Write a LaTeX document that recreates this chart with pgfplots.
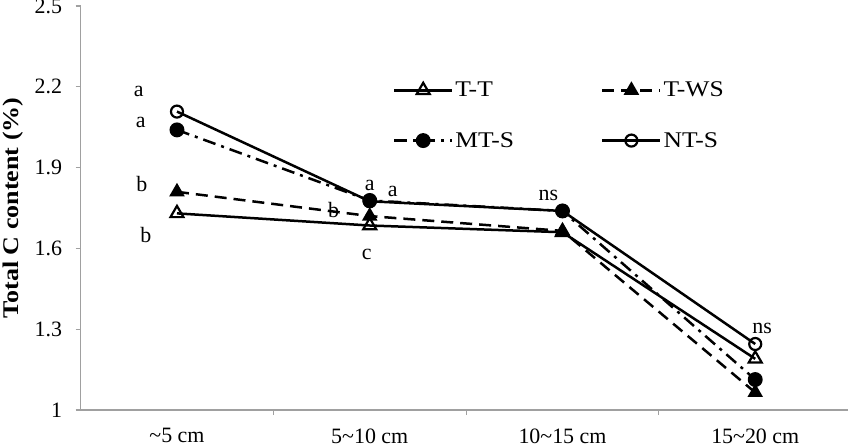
\documentclass[border=0pt]{standalone}
\usepackage{pgfplots}
\pgfplotsset{compat=1.18}
\usepackage{fontspec}
\setmainfont{Liberation Serif}
\newfontfamily\legendfont[FakeStretch=1.14]{Liberation Serif}
\newfontfamily\labelfont[FakeStretch=1.16]{Liberation Serif}

\definecolor{axisgray}{RGB}{160,160,160}

% Total C content by soil depth for four tillage treatments
\begin{document}
\begin{tikzpicture}[font=\fontsize{22}{26}\selectfont]
\begin{axis}[
  name=ax,
  scale only axis, width=771bp, height=404bp,
  xmin=-0.5, xmax=3.5, ymin=1, ymax=2.5,
  axis x line*=bottom, axis y line*=left,
  axis line style={axisgray, line width=1.3bp},
  tick style={axisgray, line width=1.1bp},
  tick align=outside, major tick length=5bp,
  xtick={0.5,1.5,2.5}, xticklabels={,,},
  extra x ticks={0,1,2,3},
  extra x tick labels={\textasciitilde5 cm, 5\textasciitilde10 cm, 10\textasciitilde15 cm, 15\textasciitilde20 cm},
  extra x tick style={tick style={draw=none}},
  ytick={1,1.3,1.6,1.9,2.2,2.5},
  yticklabels={1,1.3,1.6,1.9,2.2,2.5},
  tick label style={font=\fontsize{22}{26}\selectfont, text=black},
  xticklabel style={yshift=-10bp},
  yticklabel style={xshift=-10bp},
  ylabel={Total C content (\%)},
  ylabel style={font=\labelfont\bfseries\fontsize{22.5}{26}\selectfont, yshift=5bp},
  clip=false,
  legend style={at={(rel axis cs:0.401,0.822)}, anchor=north west,
    draw=none, fill=none, font=\legendfont\fontsize{22.5}{26}\selectfont,
    legend columns=2, row sep=30bp,
    /tikz/every even column/.append style={column sep=85bp}},
  legend cell align=left,
  legend image code/.code={\draw[mark repeat=2,mark phase=2]
    plot coordinates {(0bp,0bp) (29bp,0bp) (58bp,0bp)};},
  every axis plot/.append style={black, line width=2.5bp},
]
\addplot[solid, mark=triangle, mark size=7.5bp, mark options={solid, fill=white, line width=2.2bp}]
  coordinates {(0,1.73) (1,1.685) (2,1.66) (3,1.19)};
\addlegendentry{T-T}
\addplot[dash pattern=on 12bp off 7bp, mark=triangle*, mark size=6.5bp, mark options={solid, fill=black}]
  coordinates {(0,1.81) (1,1.72) (2,1.665) (3,1.065)};
\addlegendentry{T-WS}
\addplot[dash pattern=on 13bp off 6bp on 3bp off 6bp, mark=*, mark size=6.2bp, mark options={solid, fill=black}]
  coordinates {(0,2.04) (1,1.778) (2,1.739) (3,1.113)};
\addlegendentry{MT-S}
\addplot[solid, mark=o, mark size=6bp, mark options={solid, fill=white, line width=2.2bp}]
  coordinates {(0,2.108) (1,1.775) (2,1.739) (3,1.245)};
\addlegendentry{NT-S}

% significance letters
\begin{scope}[every node/.style={inner sep=0pt, text=black}]
\node at (axis cs:-0.198,2.181) {a};
\node at (axis cs:-0.188,2.069) {a};
\node at (axis cs:-0.182,1.839) {b};
\node at (axis cs:-0.161,1.650) {b};
\node at (axis cs:1.000,1.832) {a};
\node at (axis cs:1.120,1.813) {a};
\node at (axis cs:0.813,1.743) {b};
\node at (axis cs:0.984,1.579) {c};
\node at (axis cs:1.927,1.798) {ns};
\node at (axis cs:3.036,1.304) {ns};
\end{scope}
\end{axis}
\pgfresetboundingbox
\useasboundingbox (ax.south west) ++(-80.6bp,-37bp) rectangle ++(848bp,447bp);
\end{tikzpicture}
\end{document}
